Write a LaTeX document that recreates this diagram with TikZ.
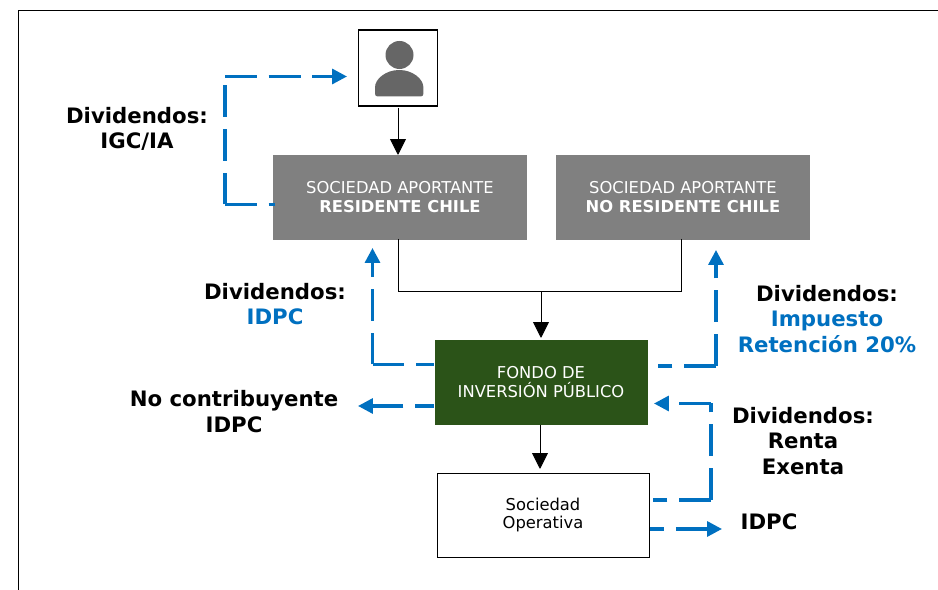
\documentclass[tikz,border=0pt]{standalone}
\usepackage{fontspec}
\setmainfont{DejaVu Sans}
\usetikzlibrary{arrows.meta}
\definecolor{flowblue}{HTML}{0070C0}
\definecolor{boxgray}{HTML}{808080}
\definecolor{fundgreen}{HTML}{2B5318}
\definecolor{persongray}{HTML}{666666}
\tikzset{
  boxtext/.style={inner sep=0, align=center, font=\fontsize{9.3pt}{10.8pt}\selectfont},
  graybox/.style={boxtext, fill=boxgray, text=white, minimum width=254*0.02cm, minimum height=84.5*0.02cm},
  greenbox/.style={boxtext, fill=fundgreen, text=white, minimum width=213*0.02cm, minimum height=85*0.02cm},
  plainbox/.style={boxtext, draw=black, line width=0.5pt, fill=white, minimum width=212*0.02cm, minimum height=84*0.02cm},
  lbl/.style={inner sep=0, align=center, font=\fontsize{12.1pt}{14.5pt}\selectfont\bfseries},
  flowleg/.style={flowblue, line width=1.9pt, dash pattern=on 18.1pt off 6.8pt},
  flow/.style={flowleg, -{Triangle[length=8.5pt,width=8.5pt]}},
  link/.style={black, line width=0.5pt, -{Triangle[length=9pt,width=9pt]}},
  linkleg/.style={black, line width=0.5pt}
}
\begin{document}
\begin{tikzpicture}[x=0.02cm, y=-0.02cm]
  \useasboundingbox (0,0) rectangle (938,590);

  % Frame
  \draw[black, line width=0.7pt] (18.5,590) -- (18.5,10.5) -- (938,10.5);

  % Boxes
  \node[draw=black, fill=white, line width=0.6pt, minimum width=79*0.02cm, minimum height=76*0.02cm, inner sep=0] (person) at (398,68) {};
  \fill[persongray] (399.5,55) circle (14);
  \fill[persongray, rounded corners=1.5] (375,96.5) -- (375,90) arc (180:360:24.2 and 20) -- (423.4,96.5) -- cycle;

  \node[graybox] (residente) at (400,197.5) {SOCIEDAD APORTANTE\\\textbf{RESIDENTE CHILE}};
  \node[graybox] (noresidente) at (683,197.5) {SOCIEDAD APORTANTE\\\textbf{NO RESIDENTE CHILE}};
  \node[greenbox] (fondo) at (541,382.5) {FONDO DE\\INVERSIÓN PÚBLICO};
  \node[plainbox] (operativa) at (543,515) {Sociedad\\Operativa};

  % Coordinates
  \coordinate (join) at (541,291.5);
  \coordinate (a1) at (275,204.5);
  \coordinate (a2) at (225,204.5);
  \coordinate (a3) at (225,76.5);
  \coordinate (a4) at (347,76.5);
  \coordinate (b1) at (434,364.5);
  \coordinate (b2) at (372.5,364.5);
  \coordinate (b3) at (372.5,248);
  \coordinate (c1) at (658,366);
  \coordinate (c2) at (716,366);
  \coordinate (c3) at (716,250);
  \coordinate (d1) at (434,406);
  \coordinate (d2) at (358,406);
  \coordinate (e1) at (653,500);
  \coordinate (e2) at (711,500);
  \coordinate (e3) at (711,403.5);
  \coordinate (e4) at (654,403.5);
  \coordinate (f1) at (650,529);
  \coordinate (f2) at (722,529);

  % Black connectors
  \draw[link] (398,108) -- (398,155);
  \draw[linkleg] (398,239) |- (join);
  \draw[linkleg] (681,239) |- (join);
  \draw[link] (join) -- (541,338);
  \draw[link] (540,425) -- (540,469);

  % Blue flows
  \draw[flowleg] (a2) -- (a1);
  \draw[flowleg] (a2) -- (a3);
  \draw[flow] (a3) -- (a4);

  \draw[flowleg] (b2) -- (b1);
  \draw[flow] (b2) -- (b3);

  \draw[flowleg] (c2) -- (c1);
  \draw[flow] (c2) -- (c3);

  \draw[flow, dash phase=7.4pt] (d1) -- (d2);

  \draw[flowleg] (e2) -- (e1);
  \draw[flowleg] (e2) -- (e3);
  \draw[flow] (e3) -- (e4);

  \draw[flow, dash phase=10.2pt] (f1) -- (f2);

  % Labels
  \node[lbl] (lbligc) at (137,129) {Dividendos:\\IGC/IA};
  \node[lbl] (lblidpc) at (275,304) {Dividendos:\\\textcolor{flowblue}{IDPC}};
  \node[lbl] (lblret) at (827,319) {Dividendos:\\\textcolor{flowblue}{Impuesto}\\\textcolor{flowblue}{Retención 20\%}};
  \node[lbl] (lblnc) at (234,411.5) {No contribuyente\\IDPC};
  \node[lbl] (lblexenta) at (803,441) {Dividendos:\\Renta\\Exenta};
  \node[lbl] (lblop) at (769,521.5) {IDPC};
\end{tikzpicture}
\end{document}
